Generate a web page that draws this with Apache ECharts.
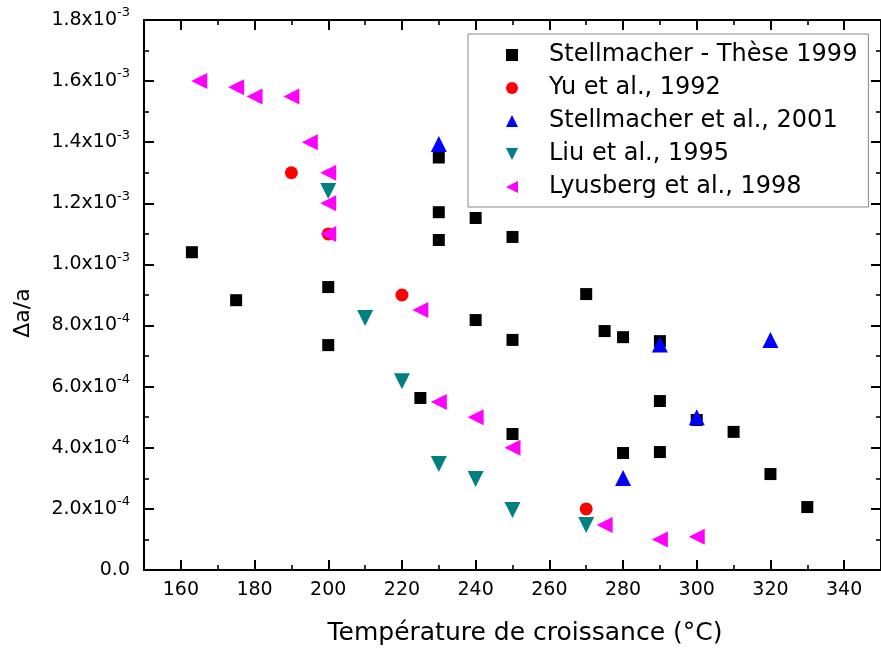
<!DOCTYPE html>
<html>
<head>
<meta charset="utf-8">
<script src="https://cdn.jsdelivr.net/npm/echarts@6/dist/echarts.min.js"></script>
<style>
html,body{margin:0;padding:0;background:#fff;}
#chart{width:881px;height:650px;}
</style>
</head>
<body>
<div id="chart"></div>
<script>
// ---- data ----
const seriesNames = ['Stellmacher - Thèse 1999', 'Yu et al., 1992', 'Stellmacher et al., 2001', 'Liu et al., 1995', 'Lyusberg et al., 1998'];

const stellThX = [163, 175, 200, 200, 225, 230, 230, 230, 240, 240, 250, 250, 250, 270, 275, 280, 280, 290, 290, 290, 300, 310, 320, 330];
const stellThY = [1.04e-3, 0.883e-3, 0.926e-3, 0.736e-3, 0.563e-3, 1.35e-3, 1.171e-3, 1.08e-3, 1.152e-3, 0.818e-3, 1.09e-3, 0.753e-3, 0.445e-3, 0.903e-3, 0.782e-3, 0.762e-3, 0.383e-3, 0.749e-3, 0.553e-3, 0.386e-3, 0.491e-3, 0.452e-3, 0.314e-3, 0.206e-3];

const yuX = [190, 200, 220, 270];
const yuY = [1.30e-3, 1.10e-3, 0.90e-3, 0.20e-3];

const stell01X = [230, 280, 290, 300, 320];
const stell01Y = [1.394e-3, 0.301e-3, 0.738e-3, 0.50e-3, 0.753e-3];

const liuX = [200, 210, 220, 230, 240, 250, 270];
const liuY = [1.24e-3, 0.825e-3, 0.618e-3, 0.347e-3, 0.298e-3, 0.196e-3, 0.147e-3];

const lyusX = [165, 175, 180, 190, 195, 200, 200, 200, 225, 230, 240, 250, 275, 290, 300];
const lyusY = [1.60e-3, 1.58e-3, 1.55e-3, 1.55e-3, 1.40e-3, 1.30e-3, 1.20e-3, 1.10e-3, 0.851e-3, 0.55e-3, 0.50e-3, 0.40e-3, 0.147e-3, 0.10e-3, 0.109e-3];

const xTicks = [160, 180, 200, 220, 240, 260, 280, 300, 320, 340];
const xMinorTicks = [150, 170, 190, 210, 230, 250, 270, 290, 310, 330, 350];
const yTicks = [0, 0.0002, 0.0004, 0.0006, 0.0008, 0.001, 0.0012, 0.0014, 0.0016, 0.0018];

const xTitle = 'Température de croissance (°C)';
const yTitle = 'Δa/a';

// ---- chart ----
const FONT = 'DejaVu Sans';
function pairs(xs, ys) { return xs.map((x, i) => [x, ys[i]]); }

function yFmt(v) {
  if (Math.abs(v) < 1e-12) return '{m|0.0}';
  const e = Math.floor(Math.log10(v) + 1e-9);
  const m = (v / Math.pow(10, e)).toFixed(1);
  return '{m|' + m + 'x10}{s|' + e + '}';
}

const XMIN = 150, XMAX = 350, YMIN = yTicks[0], YMAX = yTicks[yTicks.length - 1];
const lineStyle = { color: '#000', width: 2 };

function xAxisDef(pos, major, labels) {
  return {
    type: 'value', position: pos, min: XMIN, max: XMAX,
    axisLine: { show: major, onZero: false, lineStyle: lineStyle },
    axisTick: { show: true, inside: true, length: major ? 10 : 5, lineStyle: { color: '#000', width: major ? 2 : 1.6 },
      customValues: major ? xTicks : xMinorTicks },
    axisLabel: labels ? { show: true, customValues: xTicks, margin: 11, color: '#000', fontFamily: FONT, fontSize: 19 } : { show: false },
    splitLine: { show: false }
  };
}
function yAxisDef(pos, labels) {
  return {
    type: 'value', position: pos, min: YMIN, max: YMAX, interval: 0.0002,
    axisLine: { show: true, onZero: false, lineStyle: lineStyle },
    axisTick: { show: true, inside: true, length: 10, lineStyle: { color: '#000', width: 2 } },
    minorTick: { show: true, splitNumber: 2, length: 5, lineStyle: { color: '#000', width: 1.6 } },
    axisLabel: labels ? {
      show: true, margin: 14, color: '#000', formatter: yFmt,
      rich: {
        m: { fontFamily: FONT, fontSize: 19, color: '#000' },
        s: { fontFamily: FONT, fontSize: 13, color: '#000', padding: [0, 0, 14, 0] }
      }
    } : { show: false },
    splitLine: { show: false }, minorSplitLine: { show: false }
  };
}

const sym = [
  { symbol: 'rect', size: 12, rot: 0, color: '#000000', icon: 'rect' },
  { symbol: 'circle', size: 13, rot: 0, color: '#ff0000', icon: 'circle' },
  { symbol: 'triangle', size: 16, rot: 0, color: '#0000ff', icon: 'triangle' },
  { symbol: 'triangle', size: 16, rot: 180, color: '#008080', icon: 'path://M0,0L12,0L6,12Z' },
  { symbol: 'triangle', size: 16, rot: 90, color: '#ff00ff', icon: 'path://M12,0L12,12L0,6Z' }
];
const datasets = [pairs(stellThX, stellThY), pairs(yuX, yuY), pairs(stell01X, stell01Y), pairs(liuX, liuY), pairs(lyusX, lyusY)];

const series = datasets.map((d, i) => ({
  name: seriesNames[i], type: 'scatter', xAxisIndex: 0, yAxisIndex: 0,
  symbol: sym[i].symbol, symbolSize: sym[i].size, symbolRotate: sym[i].rot,
  itemStyle: { color: sym[i].color, opacity: 1 },
  emphasis: { disabled: true },
  data: d
}));

const chart = echarts.init(document.getElementById('chart'), null, { renderer: 'canvas' });
chart.setOption({
  animation: false,
  backgroundColor: '#fff',
  grid: { left: 144, top: 20, right: -10, bottom: 80, containLabel: false },
  xAxis: [xAxisDef('bottom', true, true), xAxisDef('bottom', false, false), xAxisDef('top', true, false), xAxisDef('top', false, false)],
  yAxis: [yAxisDef('left', true), yAxisDef('right', false)],
  legend: {
    orient: 'vertical', left: 468, top: 34,
    backgroundColor: '#fff', borderColor: '#888', borderWidth: 1,
    padding: [8, 11, 7, 38],
    itemWidth: 12, itemHeight: 12, itemGap: 7,
    textStyle: { fontFamily: FONT, fontSize: 24, color: '#000', lineHeight: 26, padding: [0, 0, 0, 26] },
    data: seriesNames.map((n, i) => ({ name: n, icon: sym[i].icon }))
  },
  graphic: [
    { type: 'text', x: 525, y: 633, style: { text: xTitle, font: '25px "DejaVu Sans"', fill: '#000', align: 'center', verticalAlign: 'middle' } },
    { type: 'text', x: 23, y: 313, rotation: Math.PI / 2, style: { text: yTitle, font: '22px "DejaVu Sans"', fill: '#000', align: 'center', verticalAlign: 'middle' } }
  ],
  series: series
});
</script>
</body>
</html>
